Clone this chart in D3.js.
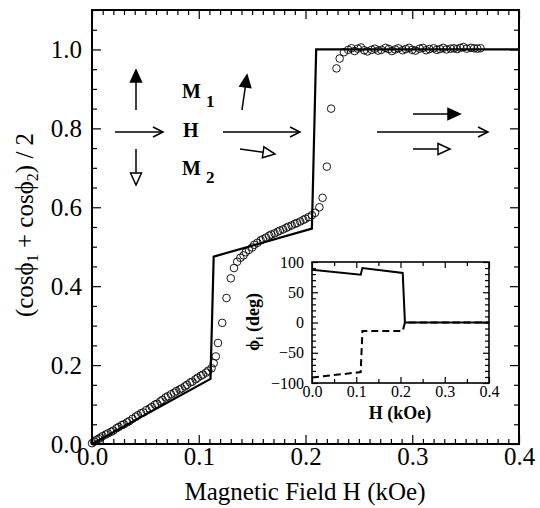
<!DOCTYPE html>
<html>
<head>
<meta charset="utf-8">
<script src="https://cdn.jsdelivr.net/npm/d3@7"></script>
<style>
  body { margin: 0; background: #fff; }
</style>
</head>
<body>
<svg id="chart" width="540" height="508" style="display:block"></svg>
<script>
const measH = [0.000, 0.002, 0.004, 0.006, 0.008, 0.010, 0.013, 0.015, 0.018, 0.020,
  0.023, 0.025, 0.028, 0.030, 0.033, 0.035, 0.038, 0.041, 0.043, 0.046,
  0.048, 0.051, 0.054, 0.056, 0.059, 0.061, 0.064, 0.066, 0.069, 0.071,
  0.074, 0.077, 0.079, 0.082, 0.084, 0.087, 0.089, 0.092, 0.094, 0.097,
  0.099, 0.102, 0.104, 0.107, 0.109, 0.112, 0.114, 0.116, 0.118, 0.122,
  0.126, 0.130, 0.133, 0.136, 0.139, 0.142, 0.144, 0.147, 0.150, 0.152,
  0.155, 0.158, 0.160, 0.163, 0.166, 0.168, 0.171, 0.174, 0.176, 0.179,
  0.182, 0.184, 0.187, 0.190, 0.192, 0.195, 0.198, 0.200, 0.203, 0.206,
  0.209, 0.213, 0.216, 0.220, 0.224, 0.229, 0.232, 0.236, 0.240, 0.243,
  0.246, 0.249, 0.252, 0.255, 0.258, 0.262, 0.265, 0.268, 0.271, 0.275,
  0.278, 0.281, 0.284, 0.287, 0.291, 0.294, 0.297, 0.300, 0.303, 0.307,
  0.310, 0.313, 0.316, 0.320, 0.323, 0.326, 0.329, 0.332, 0.336, 0.339,
  0.342, 0.345, 0.348, 0.351, 0.355, 0.358, 0.361, 0.364];
const measY = [0.002, 0.006, 0.010, 0.013, 0.016, 0.020, 0.024, 0.027, 0.031, 0.034,
  0.040, 0.043, 0.048, 0.050, 0.055, 0.058, 0.064, 0.069, 0.073, 0.078,
  0.080, 0.086, 0.090, 0.094, 0.100, 0.102, 0.108, 0.112, 0.118, 0.121,
  0.126, 0.130, 0.134, 0.138, 0.141, 0.146, 0.150, 0.156, 0.158, 0.164,
  0.168, 0.173, 0.176, 0.181, 0.186, 0.192, 0.205, 0.222, 0.256, 0.307,
  0.370, 0.420, 0.446, 0.462, 0.472, 0.478, 0.486, 0.492, 0.498, 0.505,
  0.510, 0.516, 0.519, 0.523, 0.528, 0.531, 0.534, 0.538, 0.541, 0.544,
  0.548, 0.551, 0.554, 0.558, 0.560, 0.564, 0.568, 0.571, 0.575, 0.580,
  0.586, 0.600, 0.624, 0.703, 0.850, 0.952, 0.977, 0.993, 0.999, 1.003,
  0.996, 1.002, 1.005, 0.998, 0.995, 0.999, 1.002, 0.997, 0.999, 1.004,
  1.001, 0.996, 1.000, 1.003, 0.998, 1.001, 1.004, 0.999, 0.997, 1.002,
  1.004, 0.998, 1.001, 1.003, 0.999, 1.001, 1.004, 1.000, 1.002, 1.003,
  1.001, 1.004, 1.006, 1.002, 1.004, 1.003, 1.002, 1.003];

// model curve (solid line)
const modelH = [0, 0.111, 0.114, 0.206, 0.210, 0.4];
const modelY = [0, 0.165, 0.475, 0.546, 1.0, 1.0];

// inset: angles of the two moments
const phiH = [0, 0.110, 0.114, 0.205, 0.210, 0.4];
const phi1 = [87, 79, 90, 82, 0, 0];
const phi2 = [-91, -82, -14, -14, 0, 0];

const xTicks = [0, 0.1, 0.2, 0.3, 0.4];
const yTicks = [0, 0.2, 0.4, 0.6, 0.8, 1.0];
const insetXTicks = [0, 0.1, 0.2, 0.3, 0.4];
const insetYTicks = [-100, -50, 0, 50, 100];

const svg = d3.select("#chart");
const fmt1 = d3.format(".1f");
const PHI = "\u03D5";

const x = d3.scaleLinear().domain([0, 0.4]).range([92, 519]);
const y = d3.scaleLinear().domain([0, 1.1]).range([444, 10]);

function cleanAxis(g, size) {
  g.select(".domain").remove();
  g.attr("font-family", null).attr("font-size", size);
  g.selectAll("line").attr("stroke-width", 1.2);
}

// draws ticks on all four sides, labels only bottom/left
function frameAxes(g, xs, ys, o) {
  const [xa, xb] = xs.range(), [ya, yb] = ys.range();
  const minorX = xs.ticks(o.xMinorCount).filter(v => !o.xMajor.some(m => Math.abs(m - v) < 1e-9));
  const minorY = ys.ticks(o.yMinorCount).filter(v => !o.yMajor.some(m => Math.abs(m - v) < 1e-9));
  const sides = [
    [d3.axisBottom(xs), `translate(0,${ya})`, o.xMajor, minorX, true],
    [d3.axisTop(xs), `translate(0,${yb})`, o.xMajor, minorX, false],
    [d3.axisLeft(ys), `translate(${xa},0)`, o.yMajor, minorY, true],
    [d3.axisRight(ys), `translate(${xb},0)`, o.yMajor, minorY, false]
  ];
  sides.forEach(([ax, tr, major, minor, lab], i) => {
    const isX = i < 2;
    g.append("g").attr("transform", tr)
      .call(ax.tickValues(major).tickSize(-o.major).tickSizeOuter(0)
        .tickPadding(isX ? o.xPad : o.yPad)
        .tickFormat(lab ? (isX ? o.xFmt : o.yFmt) : ""))
      .call(s => cleanAxis(s, o.font));
    g.append("g").attr("transform", tr)
      .call(ax.tickValues(minor).tickSize(-o.minor).tickSizeOuter(0).tickFormat(""))
      .call(s => cleanAxis(s, o.font));
  });
  g.append("rect")
    .attr("x", xa).attr("y", yb).attr("width", xb - xa).attr("height", ya - yb)
    .attr("fill", "none").attr("stroke", "#000").attr("stroke-width", o.frame);
}

// ---- main panel ----
const main = svg.append("g");
frameAxes(main, x, y, {
  xMajor: xTicks, yMajor: yTicks, xMinorCount: 40, yMinorCount: 22,
  major: 9, minor: 5, xPad: 3, yPad: 10, font: 25, frame: 2,
  xFmt: fmt1, yFmt: fmt1
});

main.append("path")
  .datum(d3.zip(modelH, modelY))
  .attr("fill", "none").attr("stroke", "#000").attr("stroke-width", 2.2)
  .attr("d", d3.line().x(d => x(d[0])).y(d => y(d[1])));

main.append("g").selectAll("circle")
  .data(d3.zip(measH, measY))
  .join("circle")
  .attr("cx", d => x(d[0])).attr("cy", d => y(d[1])).attr("r", 3.8)
  .attr("fill", "none").attr("stroke", "#000").attr("stroke-width", 0.9);

main.append("text")
  .attr("x", 305).attr("y", 500).attr("text-anchor", "middle").attr("font-size", 25)
  .text("Magnetic Field H (kOe)");

const yl = main.append("text")
  .attr("transform", "translate(33,225) rotate(-90)")
  .attr("text-anchor", "middle").attr("font-size", 25);
yl.append("tspan").text("(cos" + PHI);
yl.append("tspan").attr("font-size", 16).attr("dy", 5).text("1");
yl.append("tspan").attr("dy", -5).text(" + cos" + PHI);
yl.append("tspan").attr("font-size", 16).attr("dy", 5).text("2");
yl.append("tspan").attr("dy", -5).text(") / 2");

// ---- moment sketches ----
const sk = svg.append("g").attr("stroke", "#000").attr("stroke-width", 1.5);
function arrow(x1, y1, x2, y2, type) {
  const a = Math.atan2(y2 - y1, x2 - x1);
  const L = type === "v" ? 10 : 12, w = type === "v" ? 5 : 5.5;
  const bx = x2 - L * Math.cos(a), by = y2 - L * Math.sin(a);
  const nx = -Math.sin(a) * w, ny = Math.cos(a) * w;
  sk.append("line").attr("x1", x1).attr("y1", y1)
    .attr("x2", type === "v" ? x2 : bx).attr("y2", type === "v" ? y2 : by);
  const head = [[bx + nx, by + ny], [x2, y2], [bx - nx, by - ny]];
  if (type === "v") {
    sk.append("path").attr("fill", "none").attr("d", d3.line()(head));
  } else {
    sk.append("path").attr("fill", type === "fill" ? "#000" : "#fff")
      .attr("stroke-linejoin", "miter")
      .attr("d", d3.line()(head) + "Z");
  }
}
// antiparallel state
arrow(136, 110, 136, 70, "fill");
arrow(115, 132, 163, 132, "v");
arrow(136, 149, 136, 185, "open");
// canted state
arrow(242, 110, 247, 75, "fill");
arrow(223, 132, 300, 132, "v");
arrow(240, 149, 275, 154, "open");
// saturated state
arrow(413, 114, 460, 114, "fill");
arrow(377, 132, 488, 132, "v");
arrow(413, 149, 450, 149, "open");

const lab = svg.append("g").attr("font-weight", "bold");
const m1 = lab.append("text").attr("x", 182).attr("y", 98).attr("font-size", 20);
m1.append("tspan").text("M");
m1.append("tspan").attr("x", 206).attr("y", 107).attr("font-size", 17).text("1");
lab.append("text").attr("x", 183).attr("y", 137).attr("font-size", 20).text("H");
const m2 = lab.append("text").attr("x", 182).attr("y", 175).attr("font-size", 20);
m2.append("tspan").text("M");
m2.append("tspan").attr("x", 206).attr("y", 183).attr("font-size", 17).text("2");

// ---- inset ----
const ix = d3.scaleLinear().domain([0, 0.4]).range([312, 489]);
const iy = d3.scaleLinear().domain([-100, 100]).range([383, 262]);
const inset = svg.append("g");
inset.append("rect").attr("x", 312).attr("y", 262).attr("width", 177).attr("height", 121).attr("fill", "#fff");
frameAxes(inset, ix, iy, {
  xMajor: insetXTicks, yMajor: insetYTicks, xMinorCount: 8, yMinorCount: 20,
  major: 6, minor: 4, xPad: 3, yPad: 8, font: 16, frame: 1.6,
  xFmt: fmt1, yFmt: d3.format("d")
});
const iline = d3.line().x(d => ix(d[0])).y(d => iy(d[1]));
inset.append("path").datum(d3.zip(phiH, phi1))
  .attr("fill", "none").attr("stroke", "#000").attr("stroke-width", 2).attr("d", iline);
inset.append("path").datum(d3.zip(phiH, phi2))
  .attr("fill", "none").attr("stroke", "#000").attr("stroke-width", 2)
  .attr("stroke-dasharray", "7,4").attr("d", iline);

inset.append("text").attr("x", 400).attr("y", 419).attr("text-anchor", "middle")
  .attr("font-size", 18).attr("font-weight", "bold").text("H (kOe)");
const il = inset.append("text").attr("transform", "translate(259,322) rotate(-90)")
  .attr("text-anchor", "middle").attr("font-size", 18).attr("font-weight", "bold");
il.append("tspan").text(PHI);
il.append("tspan").attr("font-size", 11).attr("dy", 4).text("i");
il.append("tspan").attr("dy", -4).text(" (deg)");

// serif face everywhere
svg.selectAll("text").style("font-family", '"Liberation Serif"');
</script>
</body>
</html>
